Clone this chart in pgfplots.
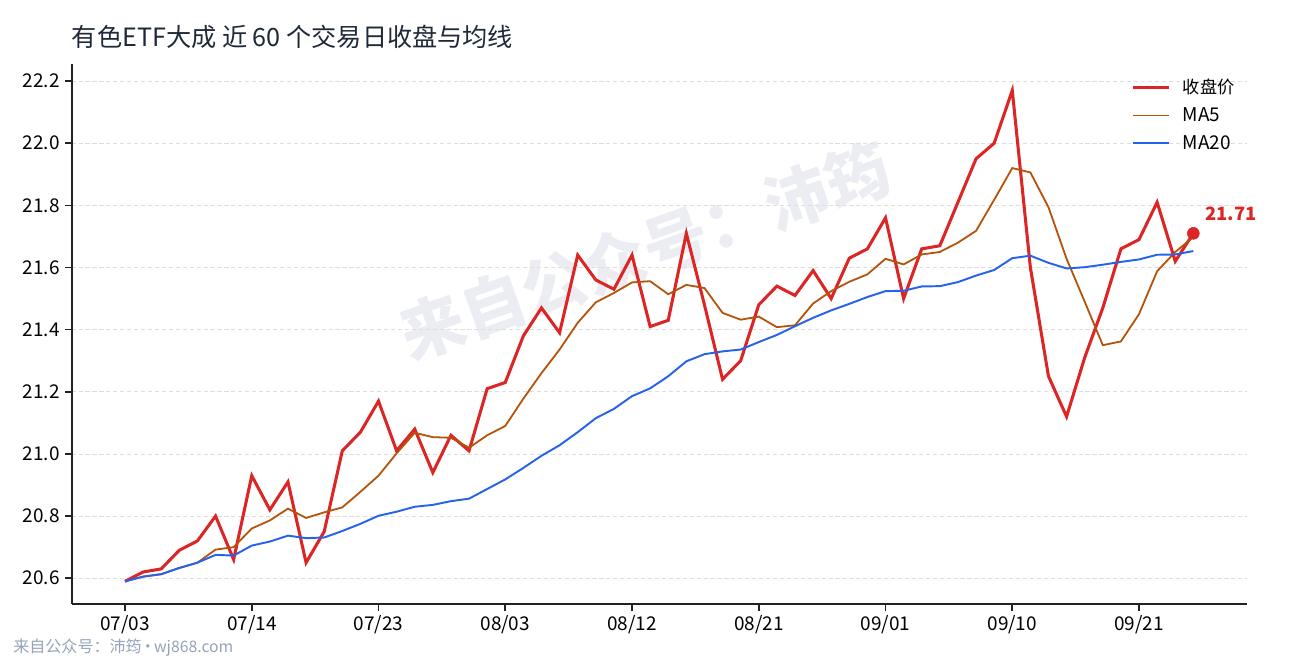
\documentclass[border=0pt]{standalone}
\usepackage{fontspec}
\setmainfont{Noto Sans CJK SC}
\usepackage{pgfplots}
\usepackage{pgfplotstable}
\pgfplotsset{compat=1.18}

\definecolor{closered}{HTML}{DC2626}
\definecolor{maorange}{HTML}{B45309}
\definecolor{mablue}{HTML}{2563EB}
\definecolor{titlegray}{HTML}{1F2937}
\definecolor{footgray}{HTML}{94A3B8}
\definecolor{wmgray}{HTML}{EBEDF2}
\definecolor{spine}{HTML}{222222}

% i  close  ma5  ma20
\pgfplotstableread{
i close ma5 ma20
0 20.59 20.590 20.590
1 20.62 20.605 20.605
2 20.63 20.613 20.613
3 20.69 20.633 20.633
4 20.72 20.650 20.650
5 20.80 20.692 20.675
6 20.66 20.700 20.673
7 20.93 20.760 20.705
8 20.82 20.786 20.718
9 20.91 20.824 20.737
10 20.65 20.794 20.729
11 20.75 20.812 20.731
12 21.01 20.828 20.752
13 21.07 20.878 20.775
14 21.17 20.930 20.801
15 21.01 21.002 20.814
16 21.08 21.068 20.830
17 20.94 21.054 20.836
18 21.06 21.052 20.848
19 21.01 21.020 20.856
20 21.21 21.060 20.887
21 21.23 21.090 20.918
22 21.38 21.178 20.955
23 21.47 21.260 20.994
24 21.39 21.336 21.028
25 21.64 21.422 21.070
26 21.56 21.488 21.115
27 21.53 21.518 21.145
28 21.64 21.552 21.186
29 21.41 21.556 21.211
30 21.43 21.514 21.250
31 21.71 21.544 21.298
32 21.48 21.534 21.321
33 21.24 21.454 21.330
34 21.30 21.432 21.336
35 21.48 21.442 21.360
36 21.54 21.408 21.383
37 21.51 21.414 21.411
38 21.59 21.484 21.438
39 21.50 21.524 21.462
40 21.63 21.554 21.483
41 21.66 21.578 21.505
42 21.76 21.628 21.524
43 21.50 21.610 21.525
44 21.66 21.642 21.539
45 21.67 21.650 21.540
46 21.81 21.680 21.553
47 21.95 21.718 21.574
48 22.00 21.818 21.592
49 22.17 21.920 21.630
50 21.60 21.906 21.638
51 21.25 21.794 21.615
52 21.12 21.628 21.597
53 21.31 21.490 21.601
54 21.47 21.350 21.609
55 21.66 21.362 21.618
56 21.69 21.450 21.626
57 21.81 21.588 21.641
58 21.62 21.650 21.642
59 21.71 21.698 21.653
}\etfdata

\begin{document}
\begin{tikzpicture}
\path[use as bounding box] (0,0) rectangle (928.8bp,475.2bp);

% watermark
\node[rotate=19.5, color=wmgray, font=\fontsize{46.5}{47}\selectfont\bfseries]
  at (464.4bp,294.5bp) {来自公众号：沛筠};

% title and footer
\node[anchor=west, color=titlegray, font=\fontsize{18.2}{19}\selectfont, inner sep=0pt]
  at (51.55bp,448.6bp) {有色ETF大成 近 60 个交易日收盘与均线};
\node[anchor=west, color=footgray, font=\fontsize{11.6}{13}\selectfont, inner sep=0pt]
  at (9.4bp,8.6bp) {来自公众号：沛筠\makebox[9bp][c]{·}{\fontsize{11.4}{13}\selectfont wj868.com}};

\begin{axis}[
  at={(51.55bp,40.32bp)}, anchor=south west,
  scale only axis,
  width=846.1bp, height=388.8bp,
  xmin=-2.95, xmax=61.95,
  ymin=20.517, ymax=22.255,
  axis x line*=bottom, axis y line*=left,
  axis line style={spine, line width=1.4bp},
  xtick={0,7,...,56},
  xticklabels={07/03,07/14,07/23,08/03,08/12,08/21,09/01,09/10,09/21},
  ytick={20.6,20.8,...,22.21},
  yticklabel style={/pgf/number format/.cd, fixed, fixed zerofill, precision=1, assume math mode=true},
  /pgf/number format/assume math mode=true,
  tick align=outside,
  major tick length=5bp,
  tick style={spine, line width=1.2bp},
  tick label style={font=\fontsize{13.7}{14}\selectfont, color=black},
  ymajorgrids,
  major grid style={dash pattern=on 3bp off 2bp, color=black!13, line width=0.6bp},
  clip=false,
  legend style={at={(0.9015,0.978)}, anchor=north west, draw=none, fill=none,
    font=\fontsize{13.7}{14}\selectfont, row sep=4.6bp, inner sep=0pt},
  legend cell align=left,
  legend image code/.code={\draw[#1] (0bp,0bp) -- (26bp,0bp);},
]
\addplot[closered, line width=2.2bp, line join=miter] table[x=i, y=close] {\etfdata};
\addlegendentry{\hspace{7bp}\fontsize{12.4}{13}\selectfont 收盘价}
\addplot[maorange, line width=1.3bp] table[x=i, y=ma5] {\etfdata};
\addlegendentry{\hspace{7bp}MA5}
\addplot[mablue, line width=1.4bp] table[x=i, y=ma20] {\etfdata};
\addlegendentry{\hspace{7bp}MA20}
\addplot[only marks, mark=*, mark size=4.3bp, closered, forget plot] coordinates {(59,21.71)};
\node[anchor=west, color=closered, font=\fontsize{13.3}{14}\selectfont\bfseries, inner sep=0pt,
  xshift=8.6bp, yshift=14.4bp] at (axis cs:59,21.71) {21.71};
\end{axis}
\end{tikzpicture}
\end{document}
